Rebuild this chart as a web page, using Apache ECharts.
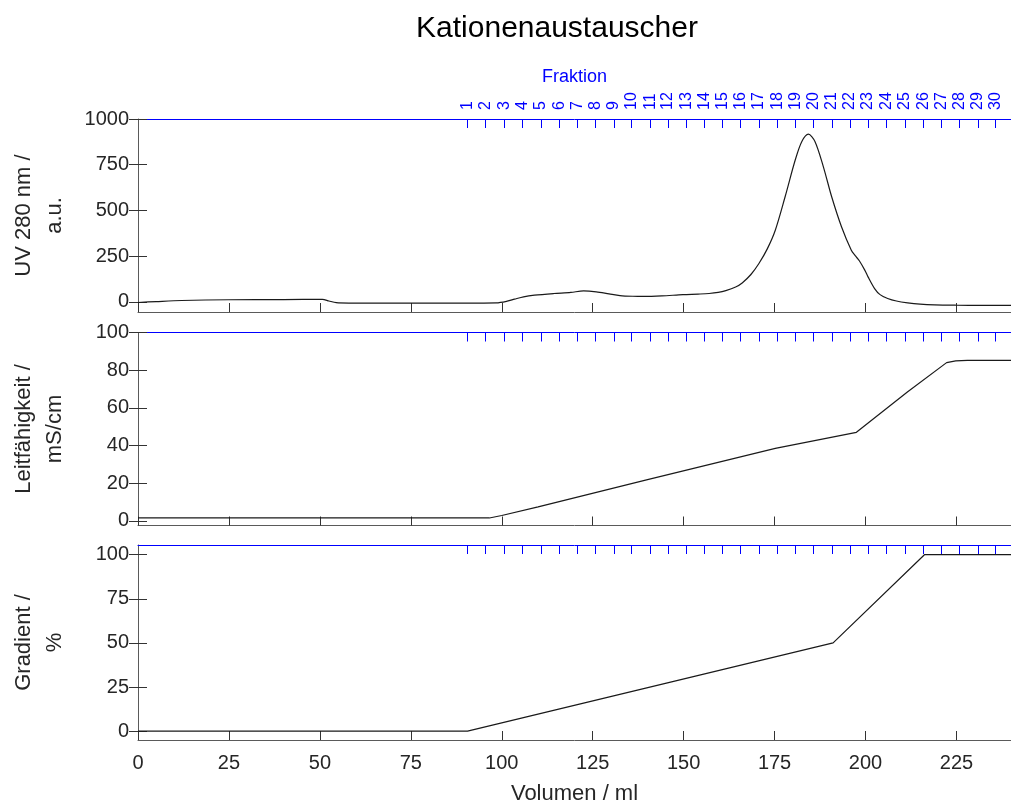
<!DOCTYPE html>
<html>
<head>
<meta charset="utf-8">
<script src="https://cdn.jsdelivr.net/npm/echarts@6/dist/echarts.min.js"></script>
<style>
  html, body { margin: 0; padding: 0; background: #fff; }
  #chart { width: 1011px; height: 806px; }
</style>
</head>
<body>
<div id="chart"></div>
<script>
// Elution volume (ml) at the start of each collected fraction
const fractionVolume = [90.6, 95.6, 100.7, 105.7, 110.8, 115.9, 120.8, 125.8, 130.8, 135.7,
  140.8, 145.7, 150.7, 155.7, 160.7, 165.7, 170.7, 175.7, 180.7, 185.7,
  190.8, 195.7, 200.7, 205.8, 210.8, 215.9, 220.9, 225.9, 230.9, 235.8];
const fractionLabels = ['1','2','3','4','5','6','7','8','9','10','11','12','13','14','15',
  '16','17','18','19','20','21','22','23','24','25','26','27','28','29','30'];

// Axis tick values
const volumeTicks = [0, 25, 50, 75, 100, 125, 150, 175, 200, 225];
const uvTicks = [0, 250, 500, 750, 1000];
const condTicks = [0, 20, 40, 60, 80, 100];
const gradTicks = [0, 25, 50, 75, 100];

// UV absorbance at 280 nm
const uvVolume = [0, 5, 12, 25, 40, 50.7, 52.5, 54.5, 58, 75, 90, 98.5, 101.5, 103.5, 106, 109,
  114.3, 119, 122.5, 126, 129.5, 132.5, 136, 139, 144, 149.8, 154, 157, 159.5, 161.6, 164.3,
  166.1, 168.5, 170.7, 173, 175.2, 177.9, 180.7, 182.5, 184.3, 186.1, 188.4, 190.7, 193.4,
  196.1, 197.3, 198.3, 199.8, 200.7, 202.5, 204, 206.1, 208.5, 211.6, 215, 219, 225, 232, 240];
const uvValue = [-3, 2, 8, 12, 13, 14, 5, -4, -6, -6, -6, -5, 4, 15, 28, 37,
  46, 52, 60, 55, 44, 35, 31, 30, 33, 40, 43, 46, 52, 62, 82,
  104, 150, 210, 290, 392, 575, 777, 877, 917, 877, 740, 575, 411,
  283, 250, 225, 174, 137, 73, 40, 19, 5, -5, -12, -16, -18, -19, -19];

// Conductivity (mS/cm)
const condVolume = [0, 50, 96.6, 100, 110, 139.8, 175.2, 197.5, 211.6, 222.3, 224.8, 228, 240];
const condValue = [1.6, 1.5, 1.5, 2.8, 7.4, 21.7, 38.5, 47, 68.5, 84, 84.9, 85.2, 85.2];

// Salt gradient (% buffer B)
const gradVolume = [0, 90.6, 191.1, 216.2, 240];
const gradValue = [0, 0, 50, 100, 100];

const FONT = "'Liberation Sans', Arial, Helvetica, sans-serif";
const TXT = '#262626';
const AX = '#5a5a5a';
const BLUE = '#0000ff';

const zip = (xs, ys) => xs.map((x, i) => [x, ys[i]]);
const fractionMap = {};
fractionVolume.forEach((v, i) => { fractionMap[String(v)] = fractionLabels[i]; });

const panels = [
  { top: 119, height: 193, min: -55, max: 1000, ticks: uvTicks, name: 'UV 280 nm /\na.u.',
    data: zip(uvVolume, uvValue), smooth: 0.3 },
  { top: 332.5, height: 193, min: -2.5, max: 100, ticks: condTicks, name: 'Leitfähigkeit /\nmS/cm',
    data: zip(condVolume, condValue), smooth: false },
  { top: 545, height: 196, min: -5, max: 105.5, ticks: gradTicks, name: 'Gradient /\n%',
    data: zip(gradVolume, gradValue), smooth: false }
];

const grid = [], xAxis = [], yAxis = [], series = [];
panels.forEach((p, i) => {
  const last = i === panels.length - 1;
  const first = i === 0;
  grid.push({ left: 137.5, right: -6, top: p.top, height: p.height, containLabel: false });

  // bottom volume axis
  xAxis.push({
    type: 'value', gridIndex: i, position: 'bottom', min: 0, max: 240,
    axisLine: { show: true, onZero: false, lineStyle: { color: AX, width: 1 } },
    axisTick: { show: true, inside: true, length: 9, customValues: volumeTicks,
      lineStyle: { color: '#333', width: 1 } },
    axisLabel: { show: last, customValues: volumeTicks, margin: 13,
      color: TXT, fontSize: 20, fontFamily: FONT, formatter: v => String(v) },
    splitLine: { show: false },
    name: last ? 'Volumen / ml' : '', nameLocation: 'middle', nameGap: 43,
    nameMoveOverlap: false,
    nameTextStyle: { color: TXT, fontSize: 22, fontFamily: FONT }
  });
  // top fraction axis
  xAxis.push({
    type: 'value', gridIndex: i, position: 'top', min: 0, max: 240,
    axisLine: { show: true, onZero: false, lineStyle: { color: BLUE, width: 1 } },
    axisTick: { show: true, inside: true, length: 9, customValues: fractionVolume,
      lineStyle: { color: BLUE, width: 1 } },
    axisLabel: { show: first, customValues: fractionVolume, rotate: -90, margin: 9,
      color: BLUE, fontSize: 16, fontFamily: FONT,
      formatter: v => fractionMap[String(v)] || '' },
    splitLine: { show: false },
    name: first ? 'Fraktion' : '', nameLocation: 'middle', nameGap: 33,
    nameMoveOverlap: false,
    nameTextStyle: { color: BLUE, fontSize: 18, fontFamily: FONT }
  });
  // left value axis
  yAxis.push({
    type: 'value', gridIndex: i, position: 'left', min: p.min, max: p.max,
    axisLine: { show: true, onZero: false, lineStyle: { color: AX, width: 1 } },
    axisTick: { show: true, inside: true, length: 9, customValues: p.ticks,
      lineStyle: { color: '#333', width: 1 } },
    axisLabel: { show: true, customValues: p.ticks, margin: 9,
      color: TXT, fontSize: 20, fontFamily: FONT, formatter: v => String(v) },
    splitLine: { show: false },
    name: p.name, nameLocation: 'middle', nameRotate: 90, nameGap: 68,
    nameMoveOverlap: false,
    nameTextStyle: { color: TXT, fontSize: 22, lineHeight: 31, fontFamily: FONT, align: 'center' }
  });
  // right value axis (ticks only)
  yAxis.push({
    type: 'value', gridIndex: i, position: 'right', min: p.min, max: p.max,
    axisLine: { show: false },
    axisTick: { show: true, inside: true, length: 9, customValues: p.ticks,
      lineStyle: { color: '#333', width: 1 } },
    axisLabel: { show: false },
    splitLine: { show: false }
  });

  series.push({
    type: 'line', xAxisIndex: 2 * i, yAxisIndex: 2 * i, data: p.data,
    smooth: p.smooth, showSymbol: false, symbol: 'none',
    lineStyle: { color: '#1a1a1a', width: 1.2 },
    clip: true, silent: true
  });
});

const chart = echarts.init(document.getElementById('chart'), null, { renderer: 'canvas' });
chart.setOption({
  animation: false,
  backgroundColor: '#ffffff',
  grid, xAxis, yAxis, series,
  graphic: [{
    type: 'text', x: 557, y: 29,
    style: { text: 'Kationenaustauscher', fontSize: 30, fontFamily: FONT, fill: '#000',
      textAlign: 'center', textVerticalAlign: 'middle' }
  }]
});
</script>
</body>
</html>
